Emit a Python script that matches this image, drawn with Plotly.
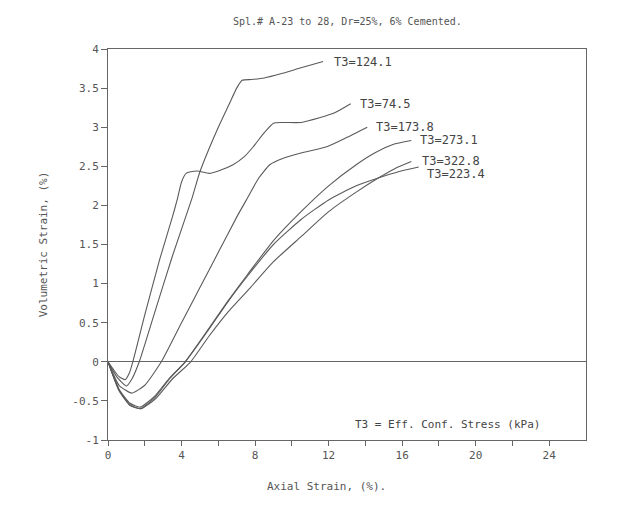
import plotly.graph_objects as go

# ---- data ----
labels = ["T3=124.1", "T3=74.5", "T3=173.8", "T3=273.1", "T3=322.8", "T3=223.4"]

x_124 = [0, 0.5, 1.0, 1.3, 1.7, 2.5, 3.5, 4.58, 5.0, 6.0, 6.6, 7.0, 7.3, 7.8, 8.5, 9.5, 10.5, 11.7]
y_124 = [0, -0.2, -0.31, -0.22, 0, 0.6, 1.35, 2.1, 2.43, 3.0, 3.3, 3.5, 3.6, 3.61, 3.63, 3.69, 3.76, 3.84]

x_745 = [0, 0.3, 0.6, 0.93, 1.15, 1.35, 2.0, 2.8, 3.5, 3.76, 4.0, 4.25, 4.5, 4.85, 5.5, 6.0, 6.8, 7.4, 7.9, 8.5, 9.0, 9.5, 10.5, 11.5, 12.3, 13.2]
y_745 = [0, -0.1, -0.19, -0.23, -0.15, 0, 0.6, 1.3, 1.85, 2.07, 2.3, 2.41, 2.43, 2.44, 2.41, 2.44, 2.52, 2.62, 2.75, 2.93, 3.05, 3.06, 3.06, 3.12, 3.18, 3.3]

x_1738 = [0, 0.6, 1.3, 2.0, 2.9, 4.0, 5.0, 6.0, 7.0, 7.6, 8.2, 8.8, 9.5, 10.5, 11.9, 13.0, 14.1]
y_1738 = [0, -0.3, -0.4, -0.3, 0, 0.5, 0.95, 1.4, 1.85, 2.1, 2.35, 2.52, 2.6, 2.67, 2.75, 2.87, 3.0]

x_2731 = [0, 0.6, 1.2, 1.75, 2.5, 3.3, 4.2, 5.5, 6.5, 7.6, 9.0, 10.5, 12.0, 13.5, 14.5, 15.5, 16.5]
y_2731 = [0, -0.35, -0.53, -0.58, -0.45, -0.22, 0, 0.43, 0.77, 1.12, 1.55, 1.92, 2.25, 2.52, 2.67, 2.78, 2.83]

x_3228 = [0, 0.6, 1.2, 1.8, 2.6, 3.5, 4.5, 5.5, 6.5, 7.75, 9.0, 10.5, 12.0, 13.5, 14.7, 15.6, 16.5]
y_3228 = [0, -0.37, -0.56, -0.6, -0.47, -0.22, 0, 0.33, 0.63, 0.95, 1.28, 1.6, 1.92, 2.17, 2.35, 2.47, 2.56]

x_2234 = [0, 0.6, 1.2, 1.75, 2.5, 3.3, 4.2, 5.5, 6.5, 7.6, 9.0, 10.5, 12.0, 13.5, 14.7, 15.8, 16.9]
y_2234 = [0, -0.36, -0.55, -0.6, -0.47, -0.23, 0, 0.42, 0.76, 1.1, 1.5, 1.82, 2.07, 2.25, 2.35, 2.43, 2.49]

series_x = [x_124, x_745, x_1738, x_2731, x_3228, x_2234]
series_y = [y_124, y_745, y_1738, y_2731, y_3228, y_2234]

# label anchor positions (data coords)
label_x = [12.17, 13.58, 14.46, 16.86, 16.97, 17.25]
label_y = [3.84, 3.30, 3.00, 2.83, 2.57, 2.40]

x_tickvals = [0, 2, 4, 6, 8, 10, 12, 14, 16, 18, 20, 22, 24]
x_ticktext = ["0", "", "4", "", "8", "", "12", "", "16", "", "20", "", "24"]
y_tickvals = [-1, -0.5, 0, 0.5, 1, 1.5, 2, 2.5, 3, 3.5, 4]
y_ticktext = ["-1", "-0.5", "0", "0.5", "1", "1.5", "2", "2.5", "3", "3.5", "4"]

FONT = "DejaVu Sans Mono"
INK = "#555555"

fig = go.Figure()
for xs, ys, name in zip(series_x, series_y, labels):
    fig.add_trace(go.Scatter(x=xs, y=ys, mode="lines", name=name,
                             line=dict(color="#5a5a5a", width=1.1, shape="spline", smoothing=0.5),
                             showlegend=False, hoverinfo="skip"))

for lx, ly, t in zip(label_x, label_y, labels):
    fig.add_annotation(x=lx, y=ly, text=t, showarrow=False, xanchor="left", yanchor="middle",
                       font=dict(family=FONT, size=12, color="#444444"))

fig.add_annotation(x=13.3, y=-0.8, text="T3 = Eff. Conf. Stress (kPa)", showarrow=False,
                   xanchor="left", yanchor="middle", font=dict(family=FONT, size=11, color="#444444"))

fig.add_annotation(x=11.9, y=-1, yref="y", text="Axial Strain, (%).", showarrow=False,
                   xanchor="center", yanchor="top", yshift=-38,
                   font=dict(family=FONT, size=11, color=INK))

fig.add_annotation(xref="paper", yref="paper", x=0.5, y=1, yshift=20, text="Spl.# A-23 to 28, Dr=25%, 6% Cemented.",
                   showarrow=False, xanchor="center", yanchor="bottom",
                   font=dict(family=FONT, size=10, color=INK))

fig.update_layout(
    width=631, height=521,
    margin=dict(l=108, r=45, t=49, b=81),
    paper_bgcolor="white", plot_bgcolor="white",
    font=dict(family=FONT, size=11, color=INK),
    xaxis=dict(range=[0, 26], tickvals=x_tickvals, ticktext=x_ticktext,
               ticks="outside", ticklen=5, tickcolor="#666", showgrid=False, zeroline=False,
               showline=True, linecolor="#666", linewidth=1, mirror=True,
               tickfont=dict(family=FONT, size=11, color=INK)),
    yaxis=dict(range=[-1, 4], tickvals=y_tickvals, ticktext=y_ticktext,
               ticks="outside", ticklen=6, tickcolor="#666", showgrid=False,
               zeroline=True, zerolinecolor="#666", zerolinewidth=1,
               showline=True, linecolor="#666", linewidth=1, mirror=True,
               title=dict(text="Volumetric Strain, (%)", standoff=22,
                          font=dict(family=FONT, size=11, color=INK)),
               tickfont=dict(family=FONT, size=11, color=INK)),
)

fig.write_html("out.html")
